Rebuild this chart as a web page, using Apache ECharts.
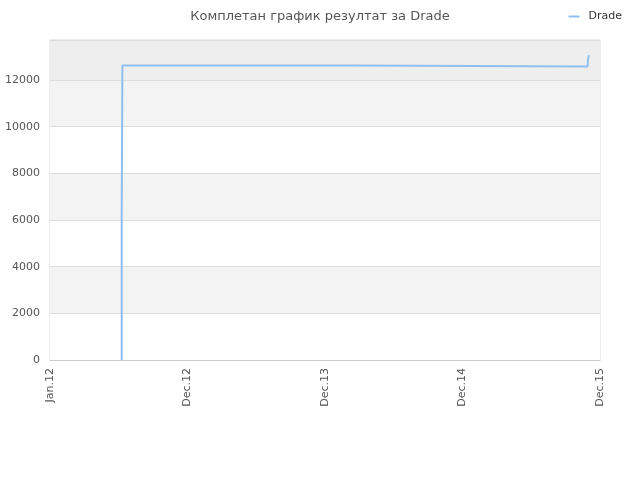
<!DOCTYPE html>
<html><head><meta charset="utf-8">
<script src="https://cdn.jsdelivr.net/npm/echarts@6/dist/echarts.min.js"></script>
<style>html,body{margin:0;padding:0;background:#fff}#c{width:640px;height:480px}</style>
</head><body><div id="c"></div>
<script>
var titleText = 'Комплетан график резултат за Drade';
var seriesName = 'Drade';
var xTickLabels = ['Jan.12', 'Dec.12', 'Dec.13', 'Dec.14', 'Dec.15'];
// x positions in tick-units (0 = Jan.12, 4 = Dec.15)
var xPos = [0.5215, 0.5215, 0.5265, 0.5265, 2.220, 2.222, 3.910, 3.912, 3.917, 3.918];
var yVals = [0, 6200, 6200, 12620, 12620, 12580, 12580, 12840, 12840, 13060];
var data = xPos.map(function (x, i) { return [x, yVals[i]]; });

var chart = echarts.init(document.getElementById('c'));
chart.setOption({
  animation: false,
  title: {
    text: titleText, left: 'center', top: 5,
    textStyle: { fontFamily: 'DejaVu Sans', fontSize: 13, fontWeight: 'normal', color: '#555' }
  },
  legend: {
    right: 13, top: 6, icon: 'rect', itemWidth: 11, itemHeight: 2, itemGap: 8,
    textStyle: { fontFamily: 'DejaVu Sans', fontSize: 11, color: '#333', padding: [0, 0, 0, 4] },
    data: [seriesName]
  },
  grid: { left: 50, right: 40, top: 40, bottom: 120, show: true, borderColor: '#ddd', borderWidth: 1 },
  xAxis: {
    type: 'value', min: 0, max: 4, interval: 1,
    axisLine: { show: true, lineStyle: { color: '#ccc' } },
    axisTick: { show: false },
    splitLine: { show: false },
    axisLabel: {
      rotate: 90, color: '#555', fontFamily: 'DejaVu Sans', fontSize: 11, margin: 8,
      formatter: function (v) { return xTickLabels[Math.round(v)]; }
    }
  },
  yAxis: {
    type: 'value', min: 0, max: function (v) { return v.max * 1.05; }, interval: 2000,
    axisLine: { show: false }, axisTick: { show: false },
    axisLabel: { color: '#555', fontFamily: 'DejaVu Sans', fontSize: 11, margin: 10, showMaxLabel: false,
      formatter: function (v) { return String(v); } },
    splitLine: { show: true, lineStyle: { color: '#ddd' } },
    splitArea: { show: true, areaStyle: { color: ['#ffffff', '#f3f3f3', '#ffffff', '#f3f3f3', '#ffffff', '#f3f3f3', '#eeeeee'] } }
  },
  series: [{
    name: seriesName, type: 'line', data: data, showSymbol: false, symbol: 'none',
    lineStyle: { color: '#8fbff0', width: 2 }, itemStyle: { color: '#8fbff0' }
  }]
});
</script></body></html>
